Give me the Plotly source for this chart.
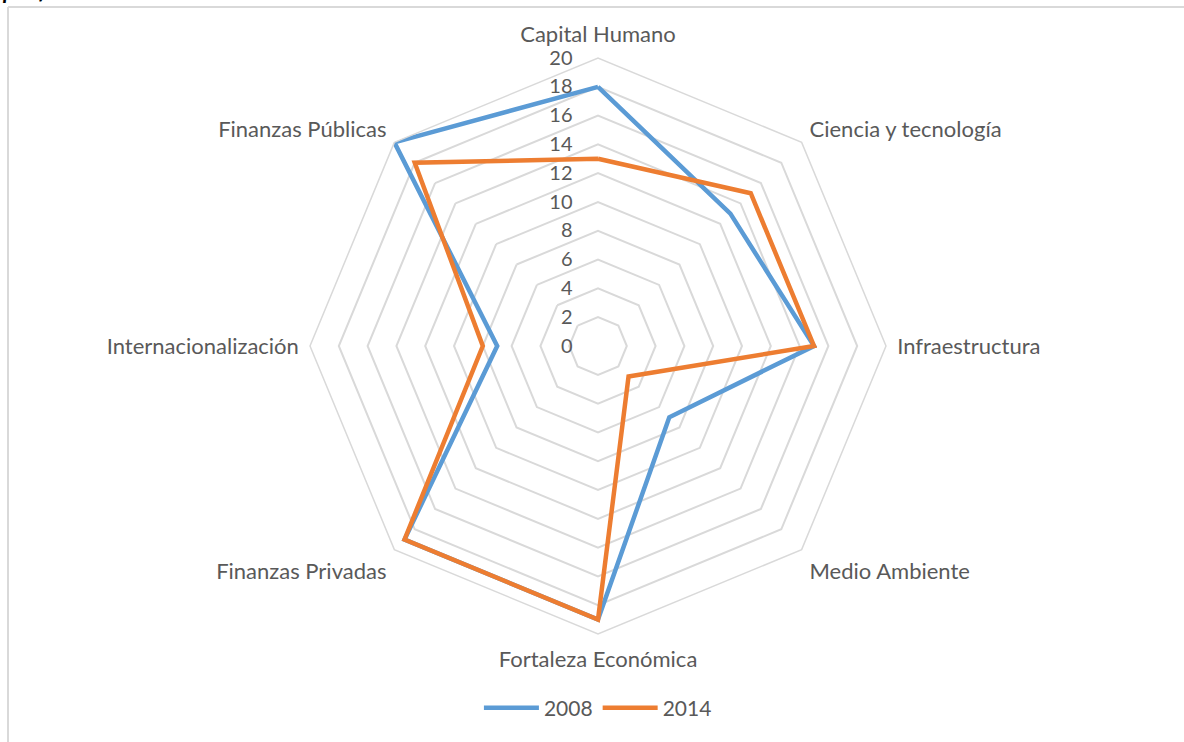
import plotly.graph_objects as go

categories = ["Capital Humano", "Ciencia y tecnología", "Infraestructura", "Medio Ambiente",
              "Fortaleza Económica", "Finanzas Privadas", "Internacionalización", "Finanzas Públicas"]
values_2008 = [18, 13, 15, 7, 19, 19, 7, 20]
values_2014 = [13, 15, 15, 3, 19, 19, 8, 18]
radial_ticks = [0, 2, 4, 6, 8, 10, 12, 14, 16, 18, 20]

W, H = 1184, 742
cx, cy, R = 598, 346, 288

fig = go.Figure()
for name, vals, color in [("2008", values_2008, "#5B9BD5"), ("2014", values_2014, "#ED7D31")]:
    fig.add_trace(go.Scatterpolar(
        r=vals + vals[:1], theta=categories + categories[:1], mode="lines", name=name,
        line=dict(color=color, width=4.5), hoverinfo="r+theta"))

font_family = "Lato, 'Open Sans', sans-serif"
fig.update_layout(
    width=W, height=H,
    margin=dict(l=0, r=0, t=0, b=0),
    paper_bgcolor="white", plot_bgcolor="white",
    font=dict(family=font_family, size=20, color="#595959"),
    polar=dict(
        domain=dict(x=[(cx - R) / W, (cx + R) / W], y=[(H - cy - R) / H, (H - cy + R) / H]),
        gridshape="linear",
        bgcolor="white",
        angularaxis=dict(rotation=90, direction="clockwise", showgrid=False, showline=True,
                         linecolor="#d9d9d9", linewidth=1.5, ticks="outside", ticklen=6,
                         tickcolor="rgba(0,0,0,0)",
                         tickfont=dict(size=22, color="#595959")),
        radialaxis=dict(range=[0, 20], tickvals=radial_ticks, ticktext=[str(t) for t in radial_ticks],
                        angle=90, tickangle=90, side="counterclockwise", showline=False,
                        ticks="outside", ticklen=18, tickcolor="rgba(0,0,0,0)",
                        gridcolor="#d9d9d9", gridwidth=1.5,
                        tickfont=dict(size=20, color="#595959")),
    ),
    legend=dict(orientation="h", x=0.505, xanchor="center", y=34 / H, yanchor="middle",
                font=dict(size=21, color="#595959"), itemwidth=55),
    showlegend=True,
)

fig.add_shape(type="line", xref="paper", yref="paper", x0=8 / W, x1=8 / W, y0=-0.05, y1=(H - 7) / H,
              line=dict(color="#d9d9d9", width=2))
fig.add_shape(type="line", xref="paper", yref="paper", x0=8 / W, x1=1.05, y0=(H - 7) / H, y1=(H - 7) / H,
              line=dict(color="#d9d9d9", width=2))
fig.add_annotation(xref="paper", yref="paper", x=0, y=(H - 6) / H, xanchor="left", yanchor="bottom",
                   text="<b><i>por factores</i></b>", showarrow=False,
                   font=dict(size=22, color="black", family="Lato, sans-serif"))

fig.write_html("out.html", config={"displayModeBar": False},
               post_script="document.body.style.margin='0';")
